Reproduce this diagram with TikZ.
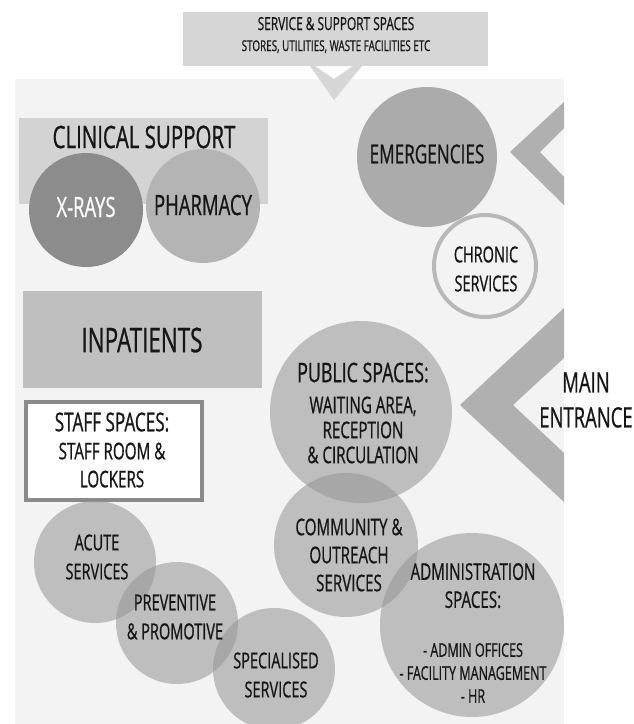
\documentclass[tikz,border=0pt]{standalone}
\usepackage{fontspec}
\setmainfont{Open Sans}[FakeStretch=0.66,FakeBold=0.7]
\usetikzlibrary{shapes}

\definecolor{bggray}{RGB}{243,243,243}
\definecolor{boxgray}{RGB}{214,214,214}
\definecolor{clingray}{RGB}{211,211,211}
\definecolor{xraygray}{RGB}{140,140,140}
\definecolor{pharmgray}{RGB}{180,180,180}
\definecolor{emgray}{RGB}{171,171,171}
\definecolor{inpgray}{RGB}{191,191,191}
\definecolor{chevgray}{RGB}{176,176,176}
\definecolor{ringgray}{RGB}{184,184,184}
\definecolor{staffgray}{RGB}{138,138,138}
\definecolor{blobgray}{RGB}{150,150,150}
\definecolor{inkgray}{RGB}{22,22,22}

\begin{document}
\begin{tikzpicture}
  [x=1pt,y=-1pt,
     zone/.style={shape=rectangle,
                  inner sep=0pt,
                  anchor=north west},
     disc/.style={shape=circle,
                  inner sep=0pt},
     blob/.style={shape=circle,
                  inner sep=0pt,
                  fill=blobgray,
                  fill opacity=0.56},
     lbl/.style 2 args={align=center,
                  inner sep=0pt,
                  text=inkgray,
                  font=\fontsize{#1}{#2}\selectfont}
  ]
    \useasboundingbox (0,0) rectangle (633,724);
    \fill[bggray] (15,79) rectangle (564,724);

    % service callout
    \node[zone,fill=boxgray,minimum width=305pt,minimum height=54pt] (serv) at (183,12) {};
    \fill[boxgray,even odd rule] (310,66) -- (362,66) -- (334,100) -- cycle
                                 (315,66) -- (353,66) -- (334,79) -- cycle;

    % entrances
    \fill[chevgray] (564,102) -- (510,152) -- (564,205) -- (564,177) -- (540,152) -- (564,128) -- cycle;
    \fill[chevgray] (564,308) -- (460,405) -- (564,502) -- (564,453) -- (513,405) -- (564,358) -- cycle;

    \node[zone,fill=clingray,minimum width=249pt,minimum height=86pt] (clin) at (19,118) {};
    \node[disc,fill=xraygray,minimum size=114pt] (xray) at (86,210) {};
    \node[disc,fill=pharmgray,minimum size=114pt] (pharm) at (203,206) {};

    \node[zone,fill=inpgray,minimum width=239pt,minimum height=97pt] (inp) at (23,291) {};
    \node[zone,fill=white,draw=staffgray,line width=4pt,minimum width=176pt,minimum height=98pt] (staff) at (24,400) {};

    \node[disc,fill=emgray,minimum size=140pt] (emerg) at (427,157) {};
    \node[disc,fill=bggray,draw=ringgray,line width=4pt,minimum size=102pt] (chron) at (485,266) {};

    \node[blob,minimum size=182pt] (pub) at (361,412) {};
    \node[blob,minimum size=144pt] (comm) at (346,545) {};
    \node[blob,minimum size=184pt] (admin) at (472,625) {};
    \foreach \nm/\x/\y in {acute/95/562,prev/177/623,spec/274/669}{
        \node[blob,minimum size=122pt] (\nm) at (\x,\y) {};
    }

    % labels
    \node[lbl={18}{21}] (serv-t) at (336,35) {SERVICE \& SUPPORT SPACES\\{\fontsize{15}{21}\selectfont STORES, UTILITIES, WASTE FACILITIES ETC}};
    \node[lbl={31}{34}] (clin-t) at (144,137) {CLINICAL SUPPORT};
    \node[lbl={28}{30},text=white] (xray-t) at (86,207) {X-RAYS};
    \node[lbl={28}{30}] (pharm-t) at (203,205) {PHARMACY};
    \node[lbl={26}{28}] (emerg-t) at (427,154) {EMERGENCIES};
    \node[lbl={22}{29}] (chron-t) at (486,269) {CHRONIC\\SERVICES};
    \node[lbl={34}{36}] (inp-t) at (142,340) {INPATIENTS};
    \node[lbl={26}{28}] (staff-t) at (112,450) {STAFF SPACES:\\{\fontsize{23}{28}\selectfont STAFF ROOM \&}\\{\fontsize{23}{28}\selectfont LOCKERS}};
    \node[lbl={23}{25}] (pub-t) at (363,413) {{\fontsize{27}{25}\selectfont PUBLIC SPACES:}\\[6pt]WAITING AREA,\\RECEPTION\\\& CIRCULATION};
    \node[lbl={28}{35}] (main-t) at (586,400) {MAIN\\ENTRANCE};
    \node[lbl={23}{28}] (comm-t) at (349,555) {COMMUNITY \&\\OUTREACH\\SERVICES};
    \node[lbl={19}{23}] (admin-t) at (473,633) {{\fontsize{23}{28}\selectfont ADMINISTRATION}\\[5pt]{\fontsize{23}{28}\selectfont SPACES:}\\[26pt]- ADMIN OFFICES\\- FACILITY MANAGEMENT\\- HR};
    \node[lbl={22}{29}] (acute-t) at (97,557) {ACUTE\\SERVICES};
    \node[lbl={22}{29}] (prev-t) at (175,617) {PREVENTIVE\\\& PROMOTIVE};
    \node[lbl={22}{29}] (spec-t) at (276,675) {SPECIALISED\\SERVICES};
\end{tikzpicture}
\end{document}
